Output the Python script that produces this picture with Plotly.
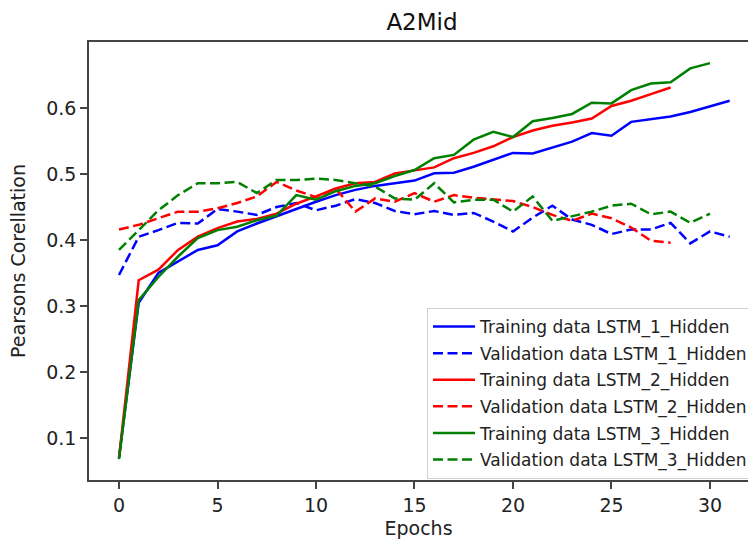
import plotly.graph_objects as go

epochs_1 = list(range(32))
epochs_2 = list(range(29))
epochs_3 = list(range(31))

blue_train = [0.070, 0.305, 0.350, 0.367, 0.385, 0.392, 0.413, 0.425, 0.436, 0.448,
              0.458, 0.468, 0.476, 0.482, 0.486, 0.490, 0.501, 0.502, 0.511, 0.521,
              0.532, 0.531, 0.540, 0.549, 0.562, 0.558, 0.579, 0.583, 0.587, 0.594,
              0.603, 0.611]
blue_val = [0.347, 0.405, 0.415, 0.426, 0.425, 0.447, 0.443, 0.438, 0.450, 0.456,
            0.445, 0.452, 0.462, 0.456, 0.444, 0.439, 0.444, 0.438, 0.441, 0.428,
            0.413, 0.434, 0.452, 0.431, 0.423, 0.409, 0.416, 0.416, 0.426, 0.395,
            0.413, 0.405]
red_train = [0.070, 0.339, 0.355, 0.385, 0.405, 0.418, 0.428, 0.432, 0.440, 0.455,
             0.466, 0.478, 0.486, 0.488, 0.501, 0.505, 0.510, 0.524, 0.532, 0.542,
             0.556, 0.566, 0.573, 0.578, 0.584, 0.603, 0.611, 0.621, 0.631]
red_val = [0.416, 0.423, 0.433, 0.443, 0.443, 0.448, 0.456, 0.466, 0.488, 0.475,
           0.465, 0.478, 0.443, 0.463, 0.458, 0.471, 0.458, 0.468, 0.464, 0.461,
           0.459, 0.450, 0.438, 0.429, 0.440, 0.433, 0.419, 0.399, 0.396]
green_train = [0.068, 0.309, 0.344, 0.375, 0.403, 0.415, 0.420, 0.430, 0.437, 0.468,
               0.461, 0.474, 0.482, 0.486, 0.497, 0.506, 0.524, 0.529, 0.552, 0.564,
               0.556, 0.580, 0.585, 0.591, 0.608, 0.607, 0.627, 0.637, 0.639, 0.660,
               0.668]
green_val = [0.385, 0.415, 0.445, 0.468, 0.486, 0.486, 0.488, 0.471, 0.491, 0.491,
             0.493, 0.491, 0.486, 0.481, 0.463, 0.461, 0.486, 0.457, 0.461, 0.461,
             0.443, 0.466, 0.429, 0.436, 0.443, 0.452, 0.455, 0.439, 0.443, 0.426,
             0.440]

x_ticks = [0, 5, 10, 15, 20, 25, 30]
y_ticks = [0.1, 0.2, 0.3, 0.4, 0.5, 0.6]

series = [
    ("Training data LSTM_1_Hidden", epochs_1, blue_train, "#0000ff", "solid"),
    ("Validation data LSTM_1_Hidden", epochs_1, blue_val, "#0000ff", "10px,4.5px"),
    ("Training data LSTM_2_Hidden", epochs_2, red_train, "#ff0000", "solid"),
    ("Validation data LSTM_2_Hidden", epochs_2, red_val, "#ff0000", "10px,4.5px"),
    ("Training data LSTM_3_Hidden", epochs_3, green_train, "#008000", "solid"),
    ("Validation data LSTM_3_Hidden", epochs_3, green_val, "#008000", "10px,4.5px"),
]

fig = go.Figure()
for i, (name, xs, ys, color, dash) in enumerate(series):
    fig.add_trace(go.Scatter(x=xs, y=ys, mode="lines", name=name, legendgroup=f"g{i}",
                             line=dict(color=color, width=2.5, dash=dash)))

font = "DejaVu Sans"
fig.update_layout(
    width=748, height=542,
    margin=dict(l=89, r=0, t=42, b=62, autoexpand=False),
    paper_bgcolor="white", plot_bgcolor="white",
    font=dict(family=font, size=19, color="#222"),
    title=dict(text="A2Mid", x=422 / 748, xanchor="center", y=1 - 22 / 542,
               yanchor="middle", font=dict(family=font, size=23, color="#111")),
    showlegend=True,
    legend=dict(x=(427 - 89) / 659, y=(480 - 308) / 438, xanchor="left", yanchor="top",
                bgcolor="rgba(255,255,255,0.9)", bordercolor="#d0d0d0", borderwidth=1,
                font=dict(family=font, size=17, color="#222"), tracegroupgap=1.5,
                itemwidth=42),
    xaxis=dict(range=[-1.523, 31.93], tickvals=x_ticks, ticktext=[str(v) for v in x_ticks],
               showgrid=False, zeroline=False, showline=True, linecolor="#444", linewidth=1.5,
               mirror=True, ticks="outside", ticklen=7, tickwidth=1.5, tickcolor="#444",
               title=dict(text="Epochs", font=dict(size=19), standoff=7)),
    yaxis=dict(range=[0.0364, 0.700], tickvals=y_ticks, ticktext=[f"{v:.1f}" for v in y_ticks],
               showgrid=False, zeroline=False, showline=True, linecolor="#444", linewidth=1.5,
               mirror=False, ticks="outside", ticklen=7, tickwidth=1.5, tickcolor="#444",
               title=dict(text="Pearsons Corellation", font=dict(size=19), standoff=16)),
)

fig.write_html("out.html")
